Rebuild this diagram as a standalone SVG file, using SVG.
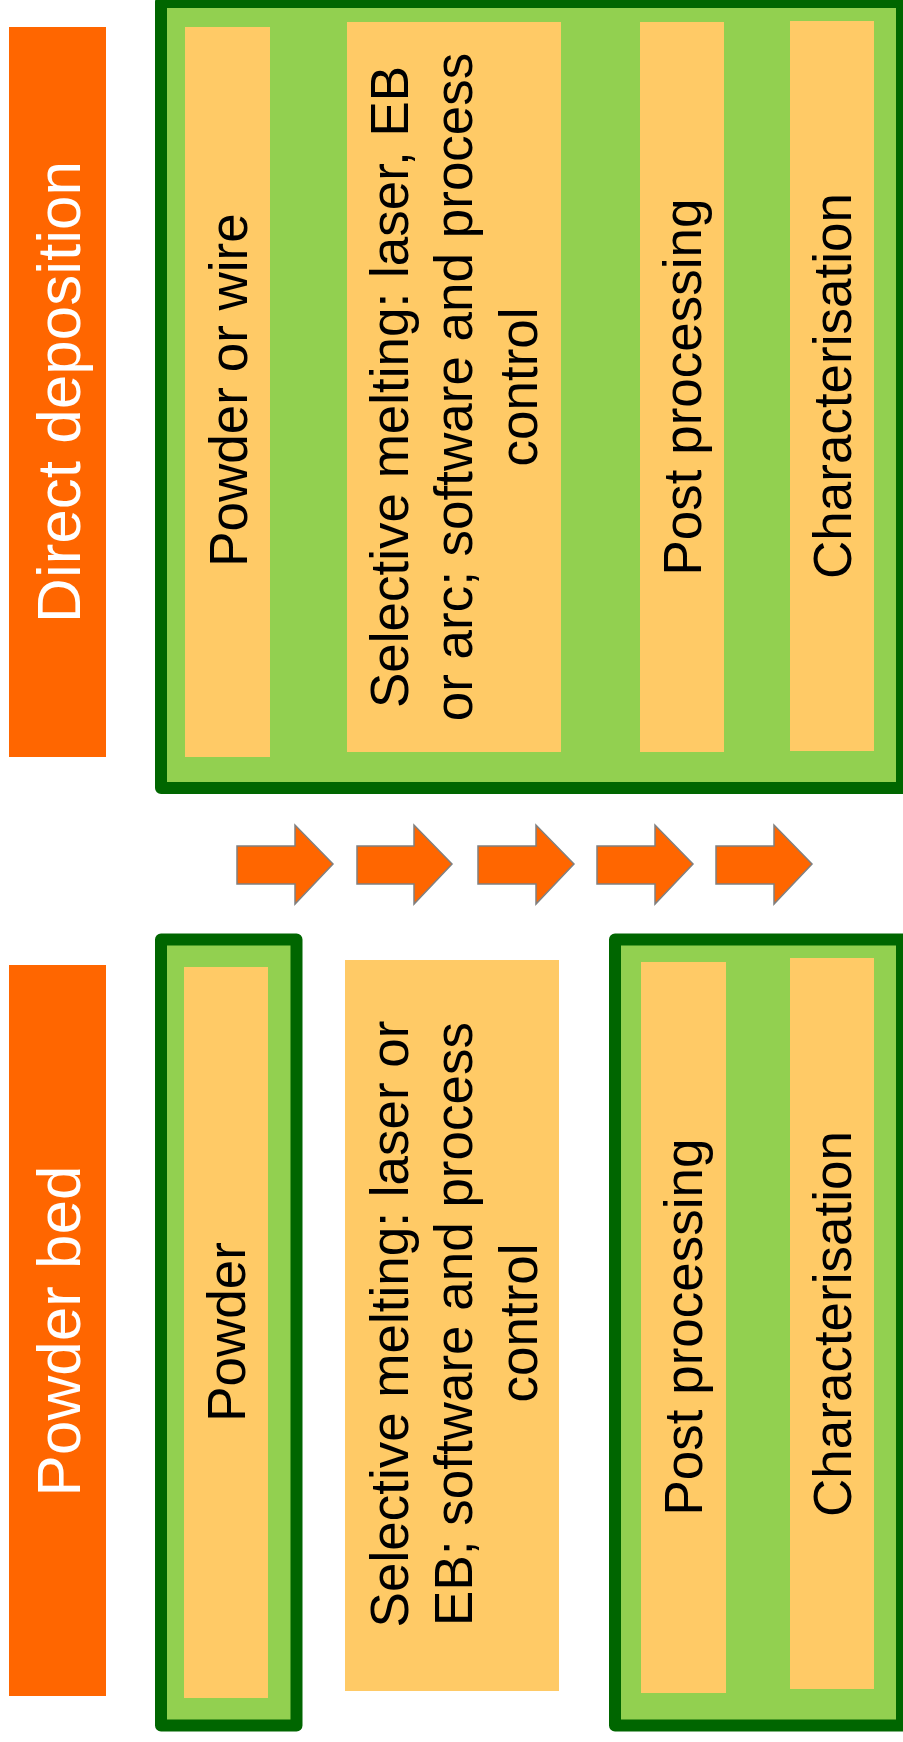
<svg xmlns="http://www.w3.org/2000/svg" width="903" height="1742" viewBox="0 0 903 1742">
<style>
.bar{fill:#FF6600}
.frame{fill:#92D050;stroke:#006600;stroke-width:12;stroke-linejoin:round}
.box{fill:#FFCA66}
.arrow{fill:#FF6600;stroke:#808080;stroke-width:1.5}
text{font-family:"Liberation Sans",Arial,sans-serif;text-anchor:middle}
.title{font-size:62px;fill:#FFFFFF}
.lbl{font-size:53px;fill:#000000}
.ml{font-size:53px;fill:#000000}
</style>
<rect width="903" height="1742" fill="#FFFFFF"/>

<g id="direct-deposition">
  <rect class="bar" x="9" y="27" width="97" height="730"/>
  <text class="title" transform="translate(80,392) rotate(-90)">Direct deposition</text>
</g>
<g id="dd-frame">
  <rect class="frame" x="161" y="2" width="741" height="786"/>
</g>
<g id="dd-powder-wire">
  <rect class="box" x="185" y="27" width="85" height="730"/>
  <text class="lbl" transform="translate(247,390) rotate(-90)">Powder or wire</text>
</g>
<g id="dd-selective">
  <rect class="box" x="347" y="22" width="214" height="730"/>
  <text class="ml" transform="translate(408,387) rotate(-90)">Selective melting: laser, EB</text>
  <text class="ml" transform="translate(472,387) rotate(-90)">or arc; software and process</text>
  <text class="ml" transform="translate(537,387) rotate(-90)">control</text>
</g>
<g id="dd-post">
  <rect class="box" x="640" y="22" width="84" height="730"/>
  <text class="lbl" transform="translate(701,387) rotate(-90)">Post processing</text>
</g>
<g id="dd-char">
  <rect class="box" x="790" y="21" width="84" height="730"/>
  <text class="lbl" transform="translate(851,386) rotate(-90)">Characterisation</text>
</g>

<g id="arrows">
  <polygon class="arrow" points="237,846 295,846 295,825 333,864 295,904 295,884 237,884"/>
  <polygon class="arrow" points="357,846 414,846 414,825 452,864 414,904 414,884 357,884"/>
  <polygon class="arrow" points="478,846 536,846 536,825 574,864 536,904 536,884 478,884"/>
  <polygon class="arrow" points="597,846 655,846 655,825 693,864 655,904 655,884 597,884"/>
  <polygon class="arrow" points="716,846 774,846 774,825 812,864 774,904 774,884 716,884"/>
</g>

<g id="powder-bed">
  <rect class="bar" x="9" y="965" width="97" height="731"/>
  <text class="title" transform="translate(80,1331) rotate(-90)">Powder bed</text>
</g>
<g id="pb-powder">
  <rect class="frame" x="161" y="939.5" width="135.5" height="786"/>
  <rect class="box" x="184" y="967" width="84" height="731"/>
  <text class="lbl" transform="translate(245,1332) rotate(-90)">Powder</text>
</g>
<g id="pb-selective">
  <rect class="box" x="345" y="960" width="214" height="731"/>
  <text class="ml" transform="translate(408,1324) rotate(-90)">Selective melting: laser or</text>
  <text class="ml" transform="translate(472,1324) rotate(-90)">EB; software and process</text>
  <text class="ml" transform="translate(537,1323) rotate(-90)">control</text>
</g>
<g id="pb-frame">
  <rect class="frame" x="615" y="939.5" width="287" height="786"/>
</g>
<g id="pb-post">
  <rect class="box" x="641" y="962" width="85" height="731"/>
  <text class="lbl" transform="translate(702,1327) rotate(-90)">Post processing</text>
</g>
<g id="pb-char">
  <rect class="box" x="790" y="958" width="84" height="731"/>
  <text class="lbl" transform="translate(851,1324) rotate(-90)">Characterisation</text>
</g>
</svg>
